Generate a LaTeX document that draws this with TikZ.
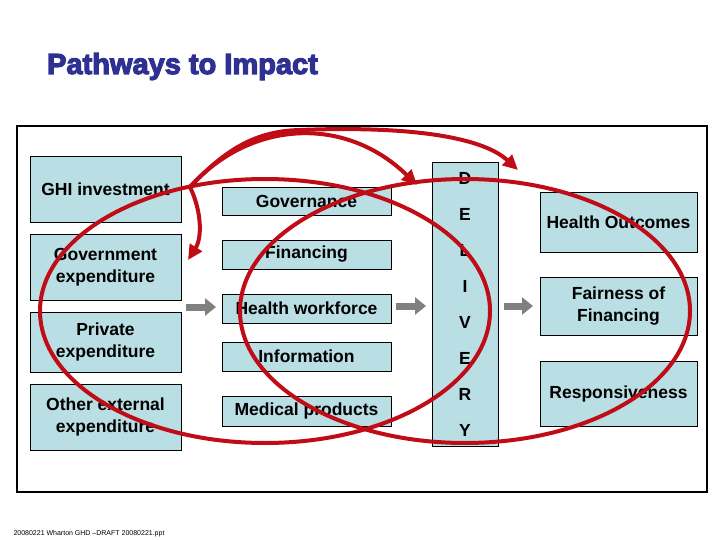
\documentclass[tikz,border=0pt]{standalone}
\usepackage{fontspec}
\setmainfont{Liberation Sans}
\newfontfamily\titlefont{Liberation Sans}[BoldFeatures={FakeBold=4}]
\usetikzlibrary{arrows.meta}
\definecolor{boxblue}{RGB}{185,222,227}
\definecolor{redline}{RGB}{192,12,22}
\definecolor{titleblue}{RGB}{46,49,146}
\definecolor{arrowgray}{RGB}{128,128,128}
\tikzset{
  box/.style={draw=black, line width=0.8pt, fill=boxblue, inner sep=0pt, align=center,
    font=\bfseries\fontsize{17.5}{21.5}\selectfont},
  leftbox/.style={box, minimum width=151pt},
  midbox/.style={box, minimum width=169pt},
  rightbox/.style={box, minimum width=157pt},
  grayarrow/.style={draw=arrowgray, line width=7pt, -{Triangle[length=11pt,width=17pt]}},
  redpath/.style={draw=redline, line width=4pt},
  redarrow/.style={redpath, -{Triangle[length=15pt,width=14pt]}},
}
\begin{document}
\begin{tikzpicture}[x=1pt, y=-1pt]
\useasboundingbox (0,0) rectangle (720,540);
% title
\node[anchor=base, text=titleblue, font=\titlefont\bfseries\fontsize{29}{34}\selectfont] (title) at (182.5,74) {Pathways to Impact};
% frame
\draw[line width=2pt] (17,126) rectangle (707,492);
% left column
\node[leftbox, minimum height=66pt] (ghi) at (105.5,189) {GHI investment};
\node[leftbox, minimum height=66pt] (gov) at (105.5,267) {Government\\expenditure};
\node[leftbox, minimum height=60pt] (priv) at (105.5,342) {Private\\expenditure};
\node[leftbox, minimum height=66pt] (other) at (105.5,417) {Other external\\expenditure};
% middle column
\node[midbox, minimum height=28pt] (govn) at (306.5,201) {Governance};
\node[midbox, minimum height=29pt] (fin) at (306.5,254.5) {Financing};
\node[midbox, minimum height=29pt] (hw) at (306.5,308.5) {Health workforce};
\node[midbox, minimum height=29pt] (info) at (306.5,356.5) {Information};
\node[midbox, minimum height=30pt] (med) at (306.5,411) {Medical products};
% delivery
\node[box, minimum width=66pt, minimum height=284pt, font=\bfseries\fontsize{17.5}{36}\selectfont] (deliv) at (465,304) {D\\E\\L\\I\\V\\E\\R\\Y};
% right column
\node[rightbox, minimum height=60pt] (ho) at (618.5,222) {Health Outcomes};
\node[rightbox, minimum height=58pt] (fair) at (618.5,306) {Fairness of\\Financing};
\node[rightbox, minimum height=65pt] (resp) at (618.5,393.5) {Responsiveness};
% gray arrows
\coordinate (g1s) at (186,307);
\coordinate (g1e) at (216,307);
\coordinate (g2s) at (396,306);
\coordinate (g2e) at (426,306);
\coordinate (g3s) at (504,306);
\coordinate (g3e) at (533,306);
\draw[grayarrow] (g1s) -- (g1e);
\draw[grayarrow] (g2s) -- (g2e);
\draw[grayarrow] (g3s) -- (g3e);
% red annotations
\coordinate (hub) at (190,187);
\coordinate (tipA) at (417,185);
\coordinate (tipB) at (518,170);
\coordinate (tipC) at (188,260);
\draw[redpath] (265,311) ellipse [x radius=225, y radius=132];
\draw[redpath] (465,311) ellipse [x radius=225, y radius=132];
\draw[redarrow] (hub) .. controls (250,120) and (345,115) .. (tipA);
\draw[redarrow] (hub) .. controls (225,150) and (255,131) .. (300,130) .. controls (400,126) and (480,135) .. (tipB);
\draw[redarrow] (hub) .. controls (202,212) and (202,238) .. (tipC);
% footer
\node[anchor=base, font=\fontsize{7}{8}\selectfont] (foot) at (89,535) {20080221 Wharton GHD --DRAFT 20080221.ppt};
\end{tikzpicture}
\end{document}
